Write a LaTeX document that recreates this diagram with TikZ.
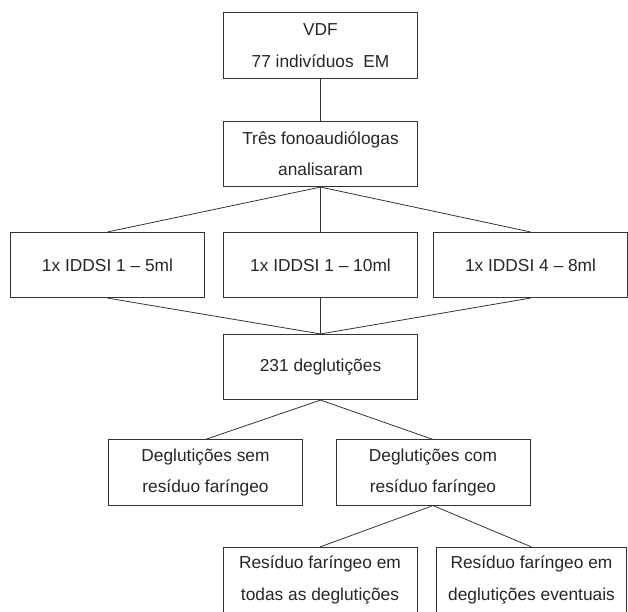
\documentclass[tikz,border=0pt]{standalone}
\usepackage{fontspec}
\setmainfont{Liberation Sans}
\begin{document}
\begin{tikzpicture}[x=0.75pt,y=-0.75pt,
    box/.style={draw=black!80,line width=0.6pt,text=black!85,align=center,
        minimum width=146pt,minimum height=49pt,inner sep=0pt,
        font=\fontsize{13}{23.5}\selectfont},
    link/.style={draw=black!80,line width=0.6pt}]
    \useasboundingbox (0,0) rectangle (628,611);
    \clip (0,0) rectangle (628,611);

    \node[box] (VDF) at (320.5,45.5){VDF\\77 indivíduos\ \ EM};
    \node[box] (Tres) at (320.5,154){Três fonoaudiólogas\\analisaram};
    \node[box,minimum width=145pt] (Five) at (107.5,265){1x IDDSI 1 -- 5ml};
    \node[box] (Ten) at (320.5,265){1x IDDSI 1 -- 10ml};
    \node[box,minimum width=145pt] (Eight) at (530.5,265){1x IDDSI 4 -- 8ml};
    \node[box] (Total) at (320.5,367){231 deglutições};
    \node[box] (Sem) at (205.5,472.5){Deglutições sem\\resíduo faríngeo};
    \node[box,minimum width=145.5pt] (Com) at (433,472.5){Deglutições com\\resíduo faríngeo};
    \node[box,minimum width=145.5pt] (Todas) at (320,580){Resíduo faríngeo em\\todas as deglutições};
    \node[box,minimum width=143pt] (Eventuais) at (531.5,580){Resíduo faríngeo em\\deglutições eventuais};

    \draw (VDF) edge[link] (Tres);
    \draw (Tres.south) edge[link] (Five.north) edge[link] (Ten.north) edge[link] (Eight.north);
    \draw (Total.north) edge[link] (Five.south) edge[link] (Ten.south) edge[link] (Eight.south);
    \draw (Total.south) edge[link] (Sem.north) edge[link] (Com.north);
    \draw (Com.south) edge[link] (Todas.north) edge[link] (Eventuais.north);
\end{tikzpicture}
\end{document}
